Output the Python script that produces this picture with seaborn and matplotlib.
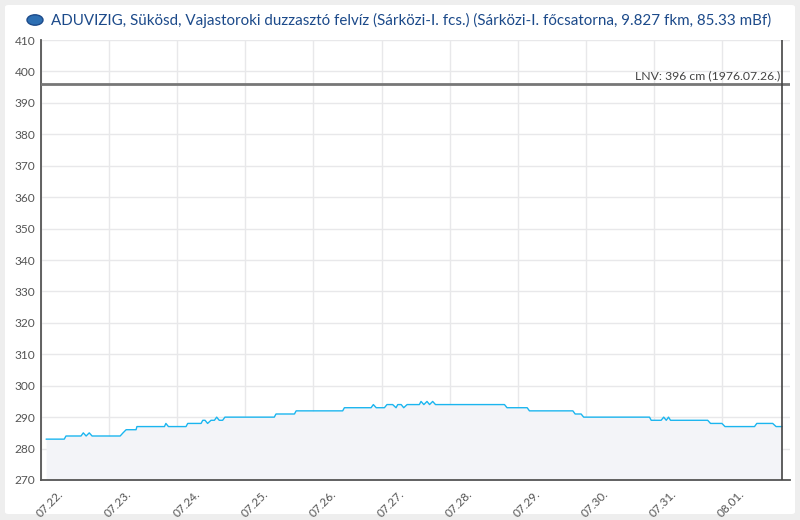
import pandas as pd
import numpy as np
import matplotlib.pyplot as plt
import matplotlib.dates as mdates
from matplotlib.patches import FancyBboxPatch
from matplotlib.transforms import ScaledTranslation
import seaborn as sns

# ============================================================================
# DATA
# ============================================================================
title_text = ('ADUVIZIG, Sükösd, Vajastoroki duzzasztó felvíz (Sárközi-I. fcs.) '
              '(Sárközi-I. főcsatorna, 9.827 fkm, 85.33 mBf)')

start_time = pd.Timestamp('2024-07-22 00:00')

# hours since 07.22. 00:00 and water level (cm)
hours = [1.8, 8.2, 8.8, 14.1, 14.9, 15.9, 17.0, 18.0, 27.9, 28.9, 30.0,
         33.5, 33.8, 43.5, 44.0, 44.9, 51.1, 51.7, 56.4, 57.0, 57.8, 58.7,
         59.9, 61.1, 61.9, 62.8, 64.0, 64.8, 82.2, 82.8, 89.3, 89.9, 106.3,
         106.9, 116.3, 117.1, 118.1, 121.0, 121.9, 123.9, 125.1, 125.7, 126.9,
         127.8, 129.0, 133.3, 133.9, 134.9, 136.0, 136.9, 138.0, 139.0, 163.3,
         164.2, 171.3, 172.1, 187.4, 188.2, 190.3, 191.2, 214.4, 215.0, 218.5,
         219.4, 220.3, 221.1, 221.8, 234.9, 235.9, 239.9, 241.0, 251.4, 252.2,
         257.8, 259.0, 261.1]
levels = [283, 283, 284, 284, 285, 284, 285, 284, 284, 285, 286,
          286, 287, 287, 288, 287, 287, 288, 288, 289, 289, 288,
          289, 289, 290, 289, 289, 290, 290, 291, 291, 292, 292,
          293, 293, 294, 293, 293, 294, 294, 293, 294, 294,
          293, 294, 294, 295, 294, 295, 294, 295, 294, 294,
          293, 293, 292, 292, 291, 291, 290, 290, 289, 289,
          290, 289, 290, 289, 289, 288, 288, 287, 287, 288,
          288, 287, 287]

lnv_value = 396
lnv_label = 'LNV: 396 cm (1976.07.26.)'
now_hours = 261.1

y_min, y_max = 270, 410
x_end_hours = 263.9

df = pd.DataFrame({
    'time': start_time + pd.to_timedelta(hours, unit='h'),
    'level': levels,
})

# ============================================================================
# VISUALIZATION
# ============================================================================
sns.set_style('white')
plt.rcParams['font.family'] = ['Lato', 'DejaVu Sans']

fig = plt.figure(figsize=(8, 5.2), dpi=100, facecolor='#eeeeee')
fig.patches.append(FancyBboxPatch((5 / 800, 6 / 520), 790 / 800, 509 / 520,
                                  boxstyle='round,pad=0,rounding_size=0.004',
                                  transform=fig.transFigure, facecolor='white',
                                  edgecolor='none', zorder=-1))
ax = fig.add_axes([41 / 800, 40 / 520, 749 / 800, 440 / 520])
ax.set_zorder(2)
ax.set_facecolor('none')

line_color = '#1bb5ef'
ax.fill_between(df['time'], df['level'], y_min, color='#f3f4f8', zorder=1, linewidth=0)
sns.lineplot(data=df, x='time', y='level', ax=ax, color=line_color,
             linewidth=1.0, zorder=3)

# LNV line and current-time marker
ax.axhline(lnv_value, color='#777777', linewidth=2, zorder=4)
ax.text(start_time + pd.Timedelta(hours=now_hours - 0.5), lnv_value + 0.9,
        lnv_label, ha='right', va='bottom', fontsize=8.8, color='#444444')
ax.axvline(start_time + pd.Timedelta(hours=now_hours), color='#444444',
           linewidth=1.2, zorder=4)

ax.set_xlim(start_time, start_time + pd.Timedelta(hours=x_end_hours))
ax.set_ylim(y_min, y_max)
ax.set_yticks(np.arange(y_min, y_max + 1, 10))
ax.xaxis.set_major_locator(mdates.DayLocator())
ax.xaxis.set_major_formatter(mdates.DateFormatter('%m.%d.'))

ax.grid(True, color='#e8e8ea', linewidth=1, zorder=0)
ax.set_axisbelow(True)
for side in ['top', 'right']:
    ax.spines[side].set_visible(False)
for side in ['left', 'bottom']:
    ax.spines[side].set_color('#555555')
    ax.spines[side].set_linewidth(1.3)
ax.tick_params(direction='in', length=5, width=1.2, color='#555555',
               labelcolor='#555555')
ax.tick_params(axis='y', pad=4, labelsize=8.6)
ax.tick_params(axis='x', pad=6, labelsize=8.5)
shift = ScaledTranslation(9 / 100, 0, fig.dpi_scale_trans)
for lbl in ax.get_xticklabels():
    lbl.set_rotation(45)
    lbl.set_ha('center')
    lbl.set_transform(lbl.get_transform() + shift)
ax.set_xlabel('')
ax.set_ylabel('')

fig.text(51 / 800, 1 - 20 / 520, title_text, ha='left', va='center',
         fontsize=10.9, color='#1c4a8a')
# small logo placeholder
fig.patches.append(plt.Circle((35 / 800, 1 - 20 / 520), 8 / 800,
                              transform=fig.transFigure, facecolor='#2d6fb3',
                              edgecolor='#1c4a8a', zorder=5))

fig.savefig('out.png', dpi=100, facecolor=fig.get_facecolor())
